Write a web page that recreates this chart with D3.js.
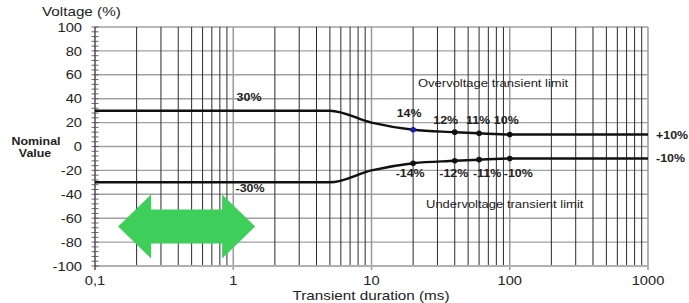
<!DOCTYPE html>
<html>
<head>
<meta charset="utf-8">
<script src="https://cdn.jsdelivr.net/npm/d3@7"></script>
<style>
	body { margin: 0; background: #fff; }
	text { font-family: "Liberation Sans", Arial, sans-serif; }
</style>
</head>
<body>
<div id="canvas"></div>
<script>
// limit curves (transient duration in ms -> voltage in %)
const durations = [0.1, 5, 10, 20, 40, 60, 100, 1000];
const overLimit = [30, 30, 20, 14, 12, 11, 10, 10];
const underLimit = [-30, -30, -20, -14, -12, -11, -10, -10];

// marked points
const markDurations = [20, 40, 60, 100];
const overMarks = [14, 12, 11, 10];
const underMarks = [-14, -12, -11, -10];
const overMarkLabels = ['14%', '12%', '11%', '10%'];
const underMarkLabels = ['-14%', '-12%', '-11%', '-10%'];

const xTicks = [0.1, 1, 10, 100, 1000];
const xTickLabels = ['0,1', '1', '10', '100', '1000'];
const yTicks = [100, 80, 60, 40, 20, 0, -20, -40, -60, -80, -100];

// the source text is a little wider than Liberation Sans
const stretch = 1.13;
const place = (sel, px, py) => sel
	.attr('transform', `translate(${px},${py}) scale(${stretch},1)`)
	.attr('dy', '0.36em');

function onLoad () {
	const w = 689, h = 303;
	const x = d3.scaleLog().domain([0.1, 1000]).range([95, 648]);
	const y = d3.scaleLinear().domain([-100, 100]).range([266, 27]);

	const svg = d3.select('#canvas').append('svg')
		.attr('width', w)
		.attr('height', h)
		.attr('viewBox', [0, 0, w, h]);

	// vertical grid: every 1..9 of each decade
	const vGrid = [];
	[0.1, 1, 10, 100].forEach(dec => {
		for (let i = 1; i < 10; i++) vGrid.push(dec * i);
	});
	vGrid.push(1000);

	svg.append('g').attr('class', 'hgrid')
		.selectAll('line').data(yTicks.filter(d => d !== -100))
		.join('line')
		.attr('x1', x(0.1)).attr('x2', x(1000))
		.attr('y1', d => y(d)).attr('y2', d => y(d))
		.style('stroke', '#a0a0a0')
		.style('stroke-width', 1.4);

	const isDecade = d => Math.abs(Math.log10(d) - Math.round(Math.log10(d))) < 1e-9;
	svg.append('g').attr('class', 'vgrid')
		.selectAll('line').data(vGrid.filter(d => d > 0.1))
		.join('line')
		.attr('x1', d => x(d)).attr('x2', d => x(d))
		.attr('y1', y(100)).attr('y2', d => isDecade(d) ? y(-100) + 4 : y(-100))
		.style('stroke', d => isDecade(d) ? '#9a9a9a' : '#2a2a2a')
		.style('stroke-width', d => isDecade(d) ? 1.5 : 1);

	// bottom axis line
	svg.append('line')
		.attr('x1', x(0.1)).attr('x2', x(1000))
		.attr('y1', y(-100)).attr('y2', y(-100))
		.style('stroke', '#b0b0b0')
		.style('stroke-width', 2.2);

	// y axis with minor ticks
	svg.append('line')
		.attr('x1', x(0.1)).attr('x2', x(0.1))
		.attr('y1', y(100)).attr('y2', y(-100) + 4)
		.style('stroke', '#222')
		.style('stroke-width', 1.2);
	const minor = d3.range(-100, 101, 4);
	svg.append('g').attr('class', 'yminor')
		.selectAll('line').data(minor)
		.join('line')
		.attr('x1', x(0.1) - 3.5).attr('x2', x(0.1) + 3.5)
		.attr('y1', d => y(d)).attr('y2', d => y(d))
		.style('stroke', '#555')
		.style('stroke-width', 0.9);

	svg.append('g').attr('class', 'ylabels')
		.selectAll('text').data(yTicks)
		.join('text')
		.each(function (d) { place(d3.select(this), 82, y(d)); })
		.attr('text-anchor', 'end')
		.style('font-size', '13px')
		.style('fill', '#222')
		.text(d => d);

	svg.append('g').attr('class', 'xlabels')
		.selectAll('text').data(xTicks)
		.join('text')
		.each(function (d) { place(d3.select(this), x(d), 280.5); })
		.attr('text-anchor', 'middle')
		.style('font-size', '13px')
		.style('fill', '#222')
		.text((d, i) => xTickLabels[i]);

	svg.append('text')
		.call(place, 371, 295.5)
		.attr('text-anchor', 'middle')
		.style('font-size', '13.5px')
		.style('fill', '#222')
		.text('Transient duration (ms)');

	svg.append('text')
		.call(place, 42, 11)
		.style('font-size', '13.5px')
		.style('fill', '#222')
		.text('Voltage (%)');

	svg.append('text')
		.call(place, 36, 141)
		.attr('text-anchor', 'middle')
		.style('font-size', '11px')
		.style('font-weight', 'bold')
		.style('fill', '#222')
		.text('Nominal');
	svg.append('text')
		.call(place, 35, 153)
		.attr('text-anchor', 'middle')
		.style('font-size', '11px')
		.style('font-weight', 'bold')
		.style('fill', '#222')
		.text('Value');

	// green double arrow (annotation)
	const arrowFrom = 0.147, arrowTo = 1.44, arrowLevel = -67;
	const headLen = 33, headHalf = 32, bodyHalf = 17;
	const ax0 = x(arrowFrom), ax1 = x(arrowTo), ay = y(arrowLevel);
	svg.append('path')
		.attr('d', d3.line()([
			[ax0, ay], [ax0 + headLen, ay - headHalf], [ax0 + headLen, ay - bodyHalf],
			[ax1 - headLen, ay - bodyHalf], [ax1 - headLen, ay - headHalf], [ax1, ay],
			[ax1 - headLen, ay + headHalf], [ax1 - headLen, ay + bodyHalf],
			[ax0 + headLen, ay + bodyHalf], [ax0 + headLen, ay + headHalf]
		]) + 'Z')
		.style('fill', '#3ecf5a');

	// limit curves
	const line = d3.line()
		.x(d => x(d[0]))
		.y(d => y(d[1]))
		.curve(d3.curveMonotoneX);
	[overLimit, underLimit].forEach(vals => {
		svg.append('path')
			.datum(durations.map((d, i) => [d, vals[i]]))
			.attr('d', line)
			.style('fill', 'none')
			.style('stroke', '#111')
			.style('stroke-width', 2.5);
	});

	svg.append('g').selectAll('circle')
		.data(markDurations.map((d, i) => ({ d, v: overMarks[i], i })))
		.join('circle')
		.attr('cx', d => x(d.d)).attr('cy', d => y(d.v))
		.attr('r', 2.8)
		.style('fill', d => d.i === 0 ? '#1c1ca8' : '#111');
	svg.append('g').selectAll('circle')
		.data(markDurations.map((d, i) => ({ d, v: underMarks[i] })))
		.join('circle')
		.attr('cx', d => x(d.d)).attr('cy', d => y(d.v))
		.attr('r', 2.8)
		.style('fill', '#111');

	// value labels
	const labelStyle = sel => sel
		.style('font-size', '11px')
		.style('font-weight', 'bold')
		.style('fill', '#222');
	const overDx = [-4, -9, -1, -3.5];
	const underDx = [-3, -1, 8, 8.5];
	svg.append('g').selectAll('text')
		.data(markDurations)
		.join('text')
		.each(function (d, i) { place(d3.select(this), x(d) + overDx[i], i === 0 ? 113 : 120); })
		.attr('text-anchor', 'middle')
		.call(labelStyle)
		.text((d, i) => overMarkLabels[i]);
	svg.append('g').selectAll('text')
		.data(markDurations)
		.join('text')
		.each(function (d, i) { place(d3.select(this), x(d) + underDx[i], 173.5); })
		.attr('text-anchor', 'middle')
		.call(labelStyle)
		.text((d, i) => underMarkLabels[i]);

	svg.append('text').call(place, 249, 97)
		.attr('text-anchor', 'middle').call(labelStyle).text('30%');
	svg.append('text').call(place, 250, 188)
		.attr('text-anchor', 'middle').call(labelStyle).text('-30%');
	svg.append('text').call(place, 656, y(10))
		.call(labelStyle).text('+10%');
	svg.append('text').call(place, 656, y(-10))
		.call(labelStyle).text('-10%');

	svg.append('text').call(place, 418, 83)
		.style('font-size', '11.5px').style('fill', '#222')
		.text('Overvoltage transient limit');
	svg.append('text').call(place, 426, 204)
		.style('font-size', '11.5px').style('fill', '#222')
		.text('Undervoltage transient limit');
}

if (document.readyState === 'loading') {
	document.addEventListener('DOMContentLoaded', onLoad);
} else {
	onLoad();
}
</script>
</body>
</html>
